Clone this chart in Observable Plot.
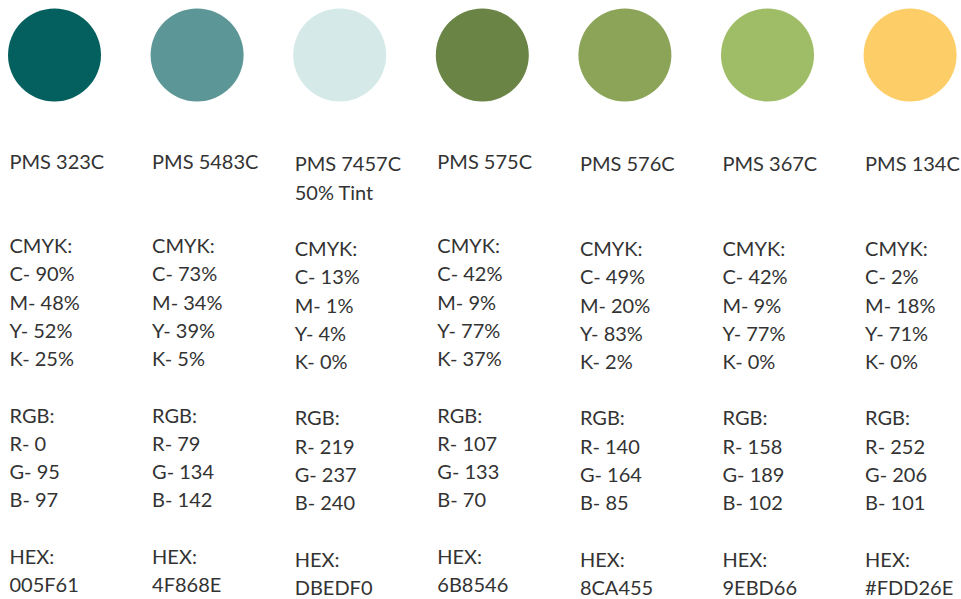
<!DOCTYPE html>
<html>
<head>
<meta charset="utf-8">
<script src="https://cdn.jsdelivr.net/npm/d3@7"></script>
<script src="https://cdn.jsdelivr.net/npm/@observablehq/plot@0.6"></script>
<style>
  html, body { margin: 0; padding: 0; background: #ffffff; }
  #chart { width: 961px; height: 599px; }
</style>
</head>
<body>
<div id="chart"></div>
<script>
// ---- Data ----
const names = ["PMS 323C", "PMS 5483C", "PMS 7457C\n50% Tint", "PMS 575C", "PMS 576C", "PMS 367C", "PMS 134C"];
const swatchColors = ["#03605f", "#5c9697", "#d6e9e9", "#6a8446", "#8ca457", "#9ebd66", "#fdce68"];
const cmykC = [90, 73, 13, 42, 49, 42, 2];
const cmykM = [48, 34, 1, 9, 20, 9, 18];
const cmykY = [52, 39, 4, 77, 83, 77, 71];
const cmykK = [25, 5, 0, 37, 2, 0, 0];
const rgbR = [0, 79, 219, 107, 140, 158, 252];
const rgbG = [95, 134, 237, 133, 164, 189, 206];
const rgbB = [97, 142, 240, 70, 85, 102, 101];
const hexLabels = ["005F61", "4F868E", "DBEDF0", "6B8546", "8CA455", "9EBD66", "#FDD26E"];

// ---- Layout (not data) ----
const colShift = [0, 0, 0.1, 0, 0.1, 0.1, 0.1]; // slight vertical offset of some columns, in rows
const swatchRow = -3.8;

const swatches = names.map((n, i) => ({col: i, row: swatchRow, fill: swatchColors[i]}));

const lines = [];
names.forEach((n, i) => {
  const s = colShift[i];
  n.split("\n").forEach((t, k) => lines.push({col: i, row: k + s, text: t}));
  lines.push({col: i, row: 3 + s, text: "CMYK:"});
  lines.push({col: i, row: 4 + s, text: `C- ${cmykC[i]}%`});
  lines.push({col: i, row: 5 + s, text: `M- ${cmykM[i]}%`});
  lines.push({col: i, row: 6 + s, text: `Y- ${cmykY[i]}%`});
  lines.push({col: i, row: 7 + s, text: `K- ${cmykK[i]}%`});
  lines.push({col: i, row: 9 + s, text: "RGB:"});
  lines.push({col: i, row: 10 + s, text: `R- ${rgbR[i]}`});
  lines.push({col: i, row: 11 + s, text: `G- ${rgbG[i]}`});
  lines.push({col: i, row: 12 + s, text: `B- ${rgbB[i]}`});
  lines.push({col: i, row: 14 + s, text: "HEX:"});
  lines.push({col: i, row: 15 + s, text: hexLabels[i]});
});

const chart = Plot.plot({
  width: 961,
  height: 599,
  margin: 0,
  style: {background: "#ffffff", fontFamily: "Lato, sans-serif"},
  x: {type: "linear", domain: [0, 6], range: [54, 909.6], axis: null},
  y: {type: "linear", domain: [0, 15], range: [161.7, 585], axis: null},
  marks: [
    Plot.dot(swatches, {x: "col", y: "row", r: 46.5, fill: "fill", stroke: "none"}),
    Plot.text(lines, {
      x: "col", y: "row", text: "text",
      textAnchor: "start", dx: -45, lineAnchor: "middle",
      fontSize: 20, fill: "#333333"
    })
  ]
});
document.getElementById("chart").appendChild(chart);
</script>
</body>
</html>
